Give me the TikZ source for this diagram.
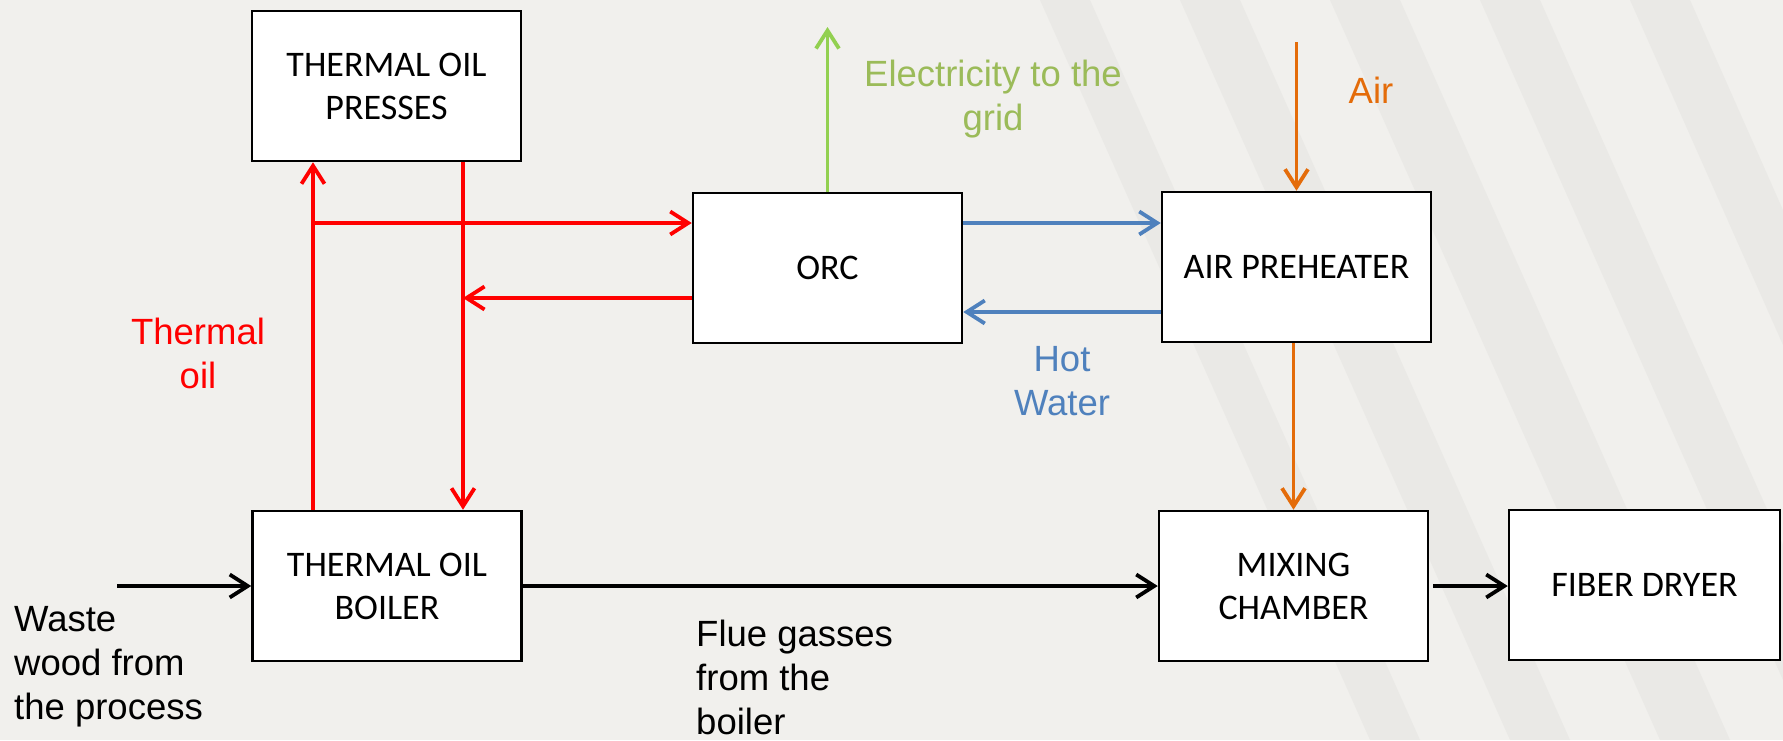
\documentclass[tikz,border=0pt]{standalone}
\usepackage{fontspec}
\setmainfont{Liberation Sans}
\newfontfamily\boxfont{Carlito}
\usetikzlibrary{arrows.meta,calc}
\definecolor{bgcol}{RGB}{241,240,237}
\definecolor{bandcol}{RGB}{226,226,223}
\definecolor{oilred}{RGB}{255,0,0}
\definecolor{elecgreen}{RGB}{146,208,80}
\definecolor{electext}{RGB}{155,187,89}
\definecolor{hwblue}{RGB}{79,129,189}
\definecolor{airorange}{RGB}{228,108,10}
\begin{document}
\begin{tikzpicture}[x=1pt,y=-1pt,
  box/.style={draw=black,line width=2.5pt,fill=white,minimum width=269pt,minimum height=150pt,inner sep=0pt,align=center,font=\boxfont\fontsize{36}{43}\selectfont},
  flow/.style={line width=3.8pt,-{Straight Barb[length=18pt,width=23pt]}},
  lbl/.style={inner sep=0pt,font=\fontsize{36.5}{44}\selectfont},
  band/.style={fill=bandcol,opacity=0.45},
]
% background
\fill[bgcol] (0,0) rectangle (1783,740);
\useasboundingbox (0,0) rectangle (1783,740);
\fill[band] (1180,0) -- (1240,0) -- (1570,740) -- (1510,740) -- cycle;
\fill[band] (1330,0) -- (1400,0) -- (1730,740) -- (1660,740) -- cycle;
\fill[band] (1480,0) -- (1540,0) -- (1783,545) -- (1783,680) -- cycle;
\fill[band] (1630,0) -- (1690,0) -- (1783,210) -- (1783,345) -- cycle;
\fill[band] (1040,0) -- (1090,0) -- (1420,740) -- (1370,740) -- cycle;

% boxes
\node[box] (presses) at (386.5,86) {THERMAL OIL\\PRESSES};
\node[box] (orc) at (827.5,268) {ORC};
\node[box] (airph) at (1296.5,267) {AIR PREHEATER};
\node[box] (boiler) at (387,586) {THERMAL OIL\\BOILER};
\node[box] (mixing) at (1293.5,586) {MIXING\\CHAMBER};
\node[box,minimum width=271pt] (dryer) at (1644.5,585) {FIBER DRYER};

% helper coordinates
\coordinate (j1) at (313,223);
\coordinate (j2) at (463,298);
\coordinate (elec) at (828,27);
\coordinate (airin) at (1296.5,42);
\coordinate (wastein) at (117,586);

% thermal oil loop
\draw[flow,oilred] (boiler.north -| j1) -- (presses.south -| j1);
\draw[flow,oilred] (presses.south -| j2) -- (boiler.north -| j2);
\draw[flow,oilred] (j1) -- (j1 -| orc.west);
\draw[flow,oilred] (orc.west |- j2) -- (j2);

% electricity
\draw[flow,elecgreen] (orc.north) -- (orc.north |- elec);

% hot water
\draw[flow,hwblue] ([yshift=45pt]orc.east) -- ([yshift=45pt]orc.east -| airph.west);
\draw[flow,hwblue] ([yshift=-45pt]airph.west) -- ([yshift=-45pt]airph.west -| orc.east);

% air
\draw[flow,airorange] (airin) -- (airph.north);
\draw[flow,airorange] (airph.south -| mixing.north) -- (mixing.north);

% gas path
\draw[flow,black] (wastein) -- (boiler.west);
\draw[flow,black] (boiler.east) -- (mixing.west);
\draw[flow,black] ([xshift=4pt]mixing.east) -- (mixing.east -| dryer.west);

% labels
\node[lbl,text=oilred,align=center] (thoil) at (198,353) {Thermal\\oil};
\node[lbl,text=electext,align=center] (eleclbl) at (993,99) {Electricity to the\\grid};
\node[lbl,text=airorange] (airlbl) at (1371,90) {Air};
\node[lbl,text=hwblue,align=center] (hwlbl) at (1062,381) {Hot\\Water};
\node[lbl,align=left,anchor=west] (wastelbl) at (14,667) {Waste\\wood from\\the process};
\node[lbl,align=left,anchor=west] (fluelbl) at (696,677) {Flue gasses\\from the\\boiler};
\end{tikzpicture}
\end{document}
